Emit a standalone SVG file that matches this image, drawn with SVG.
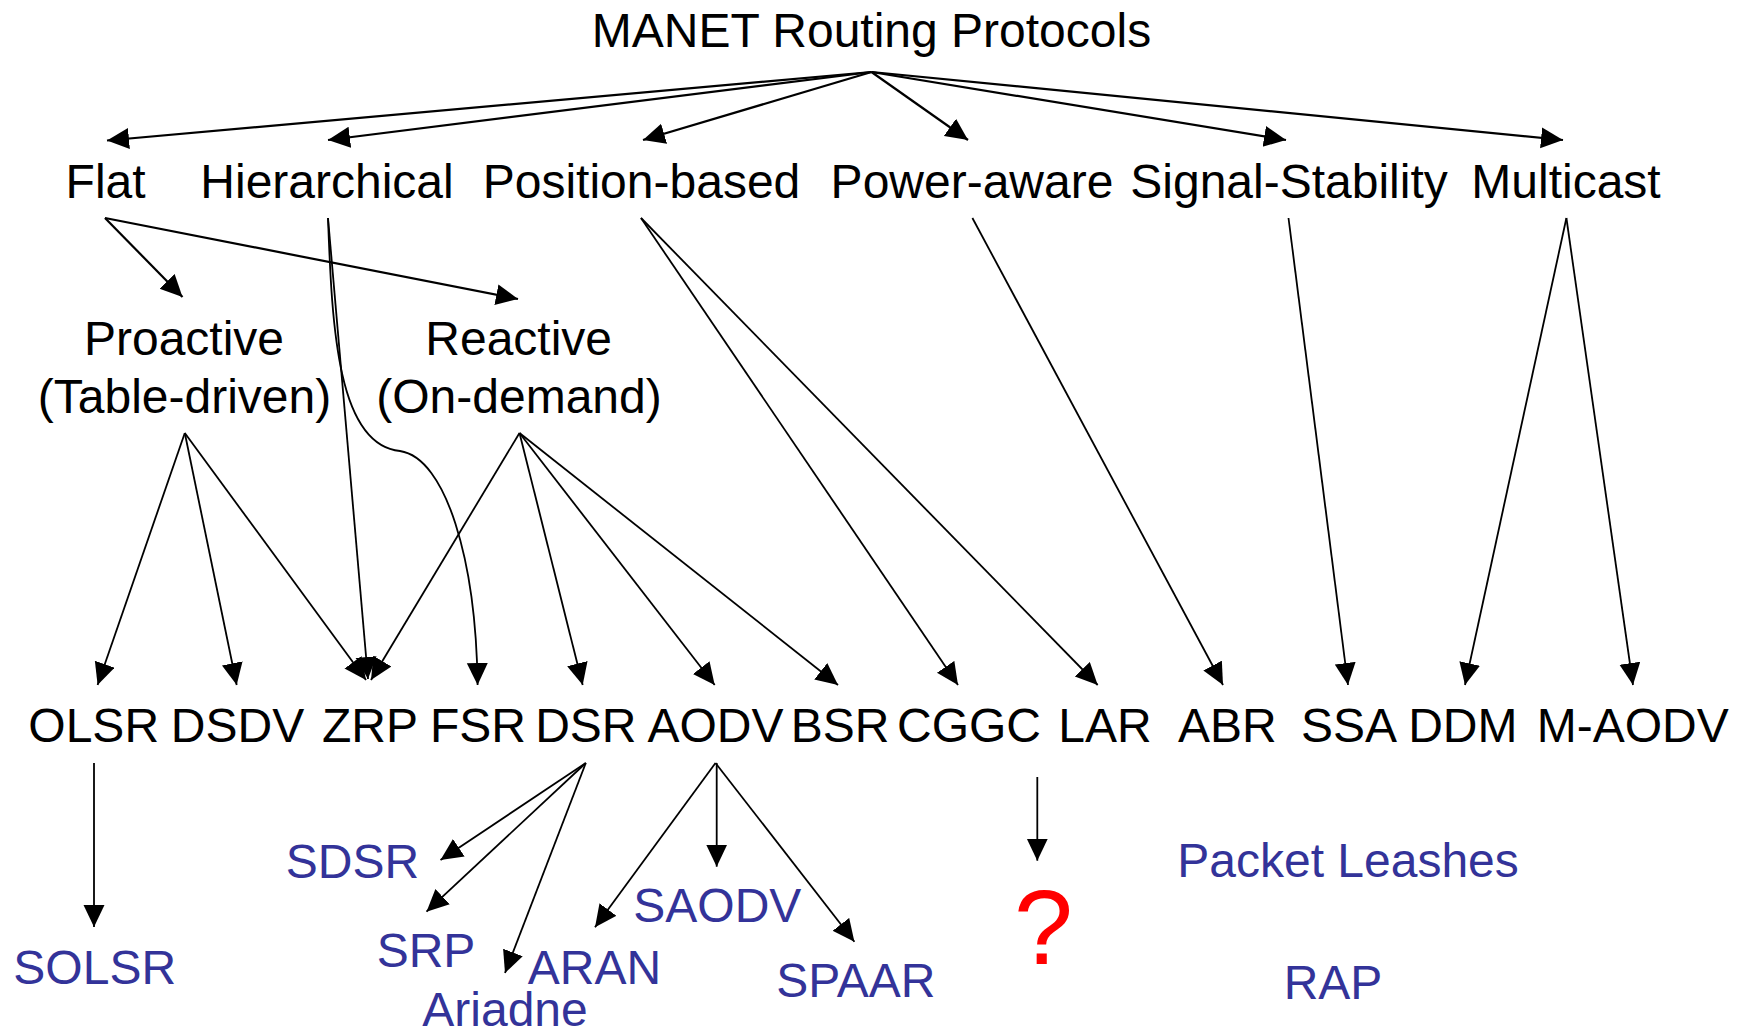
<svg xmlns="http://www.w3.org/2000/svg" width="1743" height="1033" viewBox="0 0 1743 1033">
<style>
text{font-family:"Liberation Sans",Arial,Helvetica,sans-serif;font-size:48px;text-anchor:middle;fill:#000}
.b{fill:#333399}
.q{fill:#ff0000;font-size:106px}
.c line,.c path{stroke:#000;fill:none;stroke-width:1.8;marker-end:url(#ah)}
.c .t{stroke-width:2.2}
</style>
<defs>
<marker id="ah" markerUnits="userSpaceOnUse" markerWidth="24" markerHeight="22" refX="22" refY="10.5" orient="auto" viewBox="0 0 24 22">
<path d="M0,0 L22,10.5 L0,21 z" fill="#000"/>
</marker>
</defs>
<rect width="1743" height="1033" fill="#fff"/>
<g id="connectors" class="c">
<line class="t" x1="871.5" y1="72" x2="107" y2="140.5"/>
<line class="t" x1="871.5" y1="72" x2="328" y2="140"/>
<line class="t" x1="871.5" y1="72" x2="643" y2="140"/>
<line class="t" x1="871.5" y1="72" x2="968" y2="140"/>
<line class="t" x1="871.5" y1="72" x2="1286" y2="140"/>
<line class="t" x1="871.5" y1="72" x2="1563" y2="140"/>
<line class="t" x1="105" y1="218" x2="182.5" y2="297"/>
<line class="t" x1="105" y1="218" x2="518" y2="299"/>
<line x1="328" y1="218" x2="368" y2="679"/>
<path d="M328,218 C332,330 338,445 400,451 C446,458 476,560 477.6,685"/>
<line x1="641" y1="218" x2="958" y2="685"/>
<line x1="641" y1="218" x2="1097.7" y2="685"/>
<line x1="972.4" y1="218" x2="1223" y2="685"/>
<line x1="1288.5" y1="218" x2="1348" y2="685"/>
<line x1="1566.4" y1="218" x2="1465" y2="685"/>
<line x1="1566.4" y1="218" x2="1633" y2="685"/>
<line x1="184.8" y1="433" x2="97.6" y2="685"/>
<line x1="184.8" y1="433" x2="236.7" y2="685"/>
<line x1="184.8" y1="433" x2="366" y2="680"/>
<line x1="519.5" y1="433" x2="371" y2="680"/>
<line x1="519.5" y1="433" x2="582.7" y2="685"/>
<line x1="519.5" y1="433" x2="714.7" y2="685"/>
<line x1="519.5" y1="433" x2="838" y2="685"/>
<line x1="94" y1="763" x2="94" y2="927"/>
<line x1="585.8" y1="763" x2="440.5" y2="860"/>
<line x1="585.8" y1="763" x2="426.5" y2="911.7"/>
<line x1="585.8" y1="763" x2="505" y2="973"/>
<line x1="715.5" y1="763" x2="595" y2="927.3"/>
<line x1="716.7" y1="763" x2="716.7" y2="866.7"/>
<line x1="715.5" y1="763" x2="854.4" y2="941.7"/>
<line x1="1037.3" y1="777" x2="1037.3" y2="860.7"/>
</g>
<g id="n-root"><text x="871.5" y="47.3">MANET Routing Protocols</text></g>
<g id="n-flat"><text x="105.6" y="198">Flat</text></g>
<g id="n-hier"><text x="327" y="198">Hierarchical</text></g>
<g id="n-pos"><text x="641.5" y="198">Position-based</text></g>
<g id="n-power"><text x="972" y="198">Power-aware</text></g>
<g id="n-signal"><text x="1289" y="198">Signal-Stability</text></g>
<g id="n-multi"><text x="1566" y="198">Multicast</text></g>
<g id="n-proactive"><text x="184" y="355">Proactive</text><text x="184.5" y="413">(Table-driven)</text></g>
<g id="n-reactive"><text x="518.7" y="355">Reactive</text><text x="519" y="413">(On-demand)</text></g>
<g id="n-olsr"><text x="93.7" y="742">OLSR</text></g>
<g id="n-dsdv"><text x="237.5" y="742">DSDV</text></g>
<g id="n-zrp"><text x="370" y="742">ZRP</text></g>
<g id="n-fsr"><text x="478" y="742">FSR</text></g>
<g id="n-dsr"><text x="585.8" y="742">DSR</text></g>
<g id="n-aodv"><text x="715.5" y="742">AODV</text></g>
<g id="n-bsr"><text x="840" y="742">BSR</text></g>
<g id="n-cggc"><text x="969" y="742">CGGC</text></g>
<g id="n-lar"><text x="1105" y="742">LAR</text></g>
<g id="n-abr"><text x="1227.4" y="742">ABR</text></g>
<g id="n-ssa"><text x="1349" y="742">SSA</text></g>
<g id="n-ddm"><text x="1462.8" y="742">DDM</text></g>
<g id="n-maodv"><text x="1632.7" y="742">M-AODV</text></g>
<g id="n-solsr"><text class="b" x="94.7" y="984">SOLSR</text></g>
<g id="n-sdsr"><text class="b" x="352.5" y="878">SDSR</text></g>
<g id="n-srp"><text class="b" x="426" y="967">SRP</text></g>
<g id="n-ariadne"><text class="b" x="505" y="1026">Ariadne</text></g>
<g id="n-saodv"><text class="b" x="717.3" y="922">SAODV</text></g>
<g id="n-aran"><text class="b" x="594.5" y="984">ARAN</text></g>
<g id="n-spaar"><text class="b" x="855.8" y="996.7">SPAAR</text></g>
<g id="n-q"><text class="q" x="1043.5" y="964">?</text></g>
<g id="n-leashes"><text class="b" x="1348" y="876.7">Packet Leashes</text></g>
<g id="n-rap"><text class="b" x="1333" y="999">RAP</text></g>
</svg>
